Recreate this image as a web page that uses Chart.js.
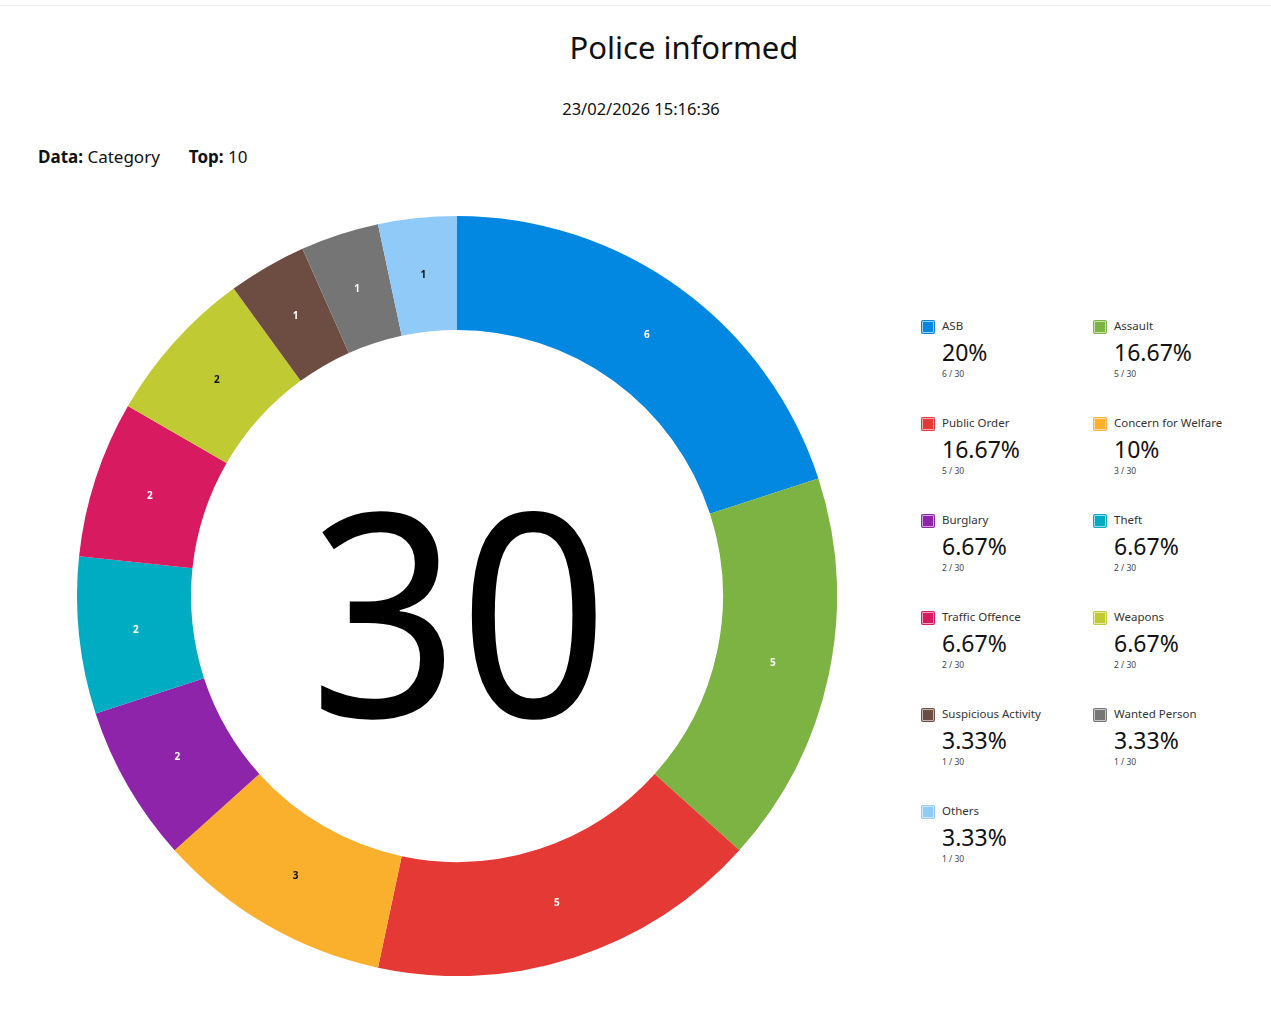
<!DOCTYPE html>
<html>
<head>
<meta charset="utf-8">
<script src="https://cdn.jsdelivr.net/npm/chart.js@4.4.1/dist/chart.umd.min.js"></script>
<style>
  body { margin: 0; background: #fff; font-family: "Noto Sans", "Open Sans", sans-serif; color: #111; }
  .page { position: relative; width: 1271px; height: 1017px; overflow: hidden; }
  .topline { position: absolute; left: 0; right: 0; top: 5px; border-top: 1px solid #eee; }
  h1 { position: absolute; top: 26px; left: 0; width: 1368px; margin: 0; text-align: center; font-weight: 400; font-size: 31px; }
  .date { position: absolute; top: 97px; left: 0; width: 1282px; text-align: center; font-size: 16.5px; }
  .meta { position: absolute; top: 145px; left: 38px; font-size: 17px; }
  .meta b { font-weight: 700; }
  .meta span { margin-right: 29px; }
  #wrap { position: absolute; left: 77px; top: 216px; width: 760px; height: 760px; }
  #legend { position: absolute; left: 920px; top: 318px; display: grid; grid-template-columns: 172px 172px; grid-auto-rows: 97px; }
  .item { position: relative; }
  .box { position: absolute; left: 1px; top: 2px; width: 12px; height: 12px; border-radius: 2px; border: 1px solid; }
  .name { position: absolute; left: 22px; top: 0; font-size: 11.5px; color: #333; white-space: nowrap; }
  .pct { position: absolute; left: 22px; top: 18px; font-size: 23px; color: #111; }
  .cnt { position: absolute; left: 22px; top: 50px; font-size: 8.5px; color: #444; }
</style>
</head>
<body>
<div class="page">
  <div class="topline"></div>
  <h1>Police informed</h1>
  <div class="date">23/02/2026 15:16:36</div>
  <div class="meta"><span><b>Data:</b> Category</span><span><b>Top:</b> 10</span></div>
  <div id="wrap"><canvas id="chart"></canvas></div>
  <div id="legend"></div>
</div>
<script>
const categories = ["ASB", "Assault", "Public Order", "Concern for Welfare", "Burglary", "Theft",
  "Traffic Offence", "Weapons", "Suspicious Activity", "Wanted Person", "Others"];
const counts = [6, 5, 5, 3, 2, 2, 2, 2, 1, 1, 1];
const colors = ["#0288e0", "#7cb342", "#e53935", "#fbb02d", "#8e24aa", "#00acc1",
  "#d81b60", "#c0ca33", "#6d4c41", "#757575", "#90caf9"];
const labelColors = ["#fff", "#fff", "#fff", "#111", "#fff", "#fff", "#fff", "#111", "#fff", "#fff", "#111"];

const total = counts.reduce((a, b) => a + b, 0);

const sliceLabels = {
  id: "sliceLabels",
  afterDatasetsDraw(chart) {
    const ctx = chart.ctx;
    const meta = chart.getDatasetMeta(0);
    ctx.save();
    ctx.font = "bold 10px 'Noto Sans', sans-serif";
    ctx.textAlign = "center";
    ctx.textBaseline = "middle";
    meta.data.forEach((arc, i) => {
      const p = arc.tooltipPosition();
      ctx.fillStyle = labelColors[i];
      ctx.fillText(chart.data.datasets[0].data[i], p.x, p.y);
    });
    // total in the middle, a bit condensed
    const c = meta.data[0];
    ctx.translate(c.x + 2, c.y + 40);
    ctx.scale(0.92, 1);
    ctx.fillStyle = "#000";
    ctx.font = "284px 'Noto Sans', sans-serif";
    ctx.fillText(String(total), 0, 0);
    ctx.restore();
  }
};

const chart = new Chart(document.getElementById("chart"), {
  type: "doughnut",
  data: {
    labels: categories,
    datasets: [{
      data: counts,
      backgroundColor: colors,
      borderWidth: 0
    }]
  },
  options: {
    responsive: true,
    maintainAspectRatio: false,
    animation: false,
    cutout: "70%",
    layout: { padding: 0 },
    plugins: {
      legend: { display: false },
      tooltip: { enabled: false }
    }
  },
  plugins: [sliceLabels]
});

// legend built from the same arrays
const legend = document.getElementById("legend");
categories.forEach((name, i) => {
  const pct = Math.round(counts[i] / total * 10000) / 100;
  const item = document.createElement("div");
  item.className = "item";
  item.innerHTML =
    '<div class="box" style="background:' + colors[i] + ';border-color:' + colors[i] + '99;box-shadow: inset 0 0 0 1px #ffffff99"></div>' +
    '<div class="name">' + name + '</div>' +
    '<div class="pct">' + pct + '%</div>' +
    '<div class="cnt">' + counts[i] + ' / ' + total + '</div>';
  legend.appendChild(item);
});
</script>
</body>
</html>
